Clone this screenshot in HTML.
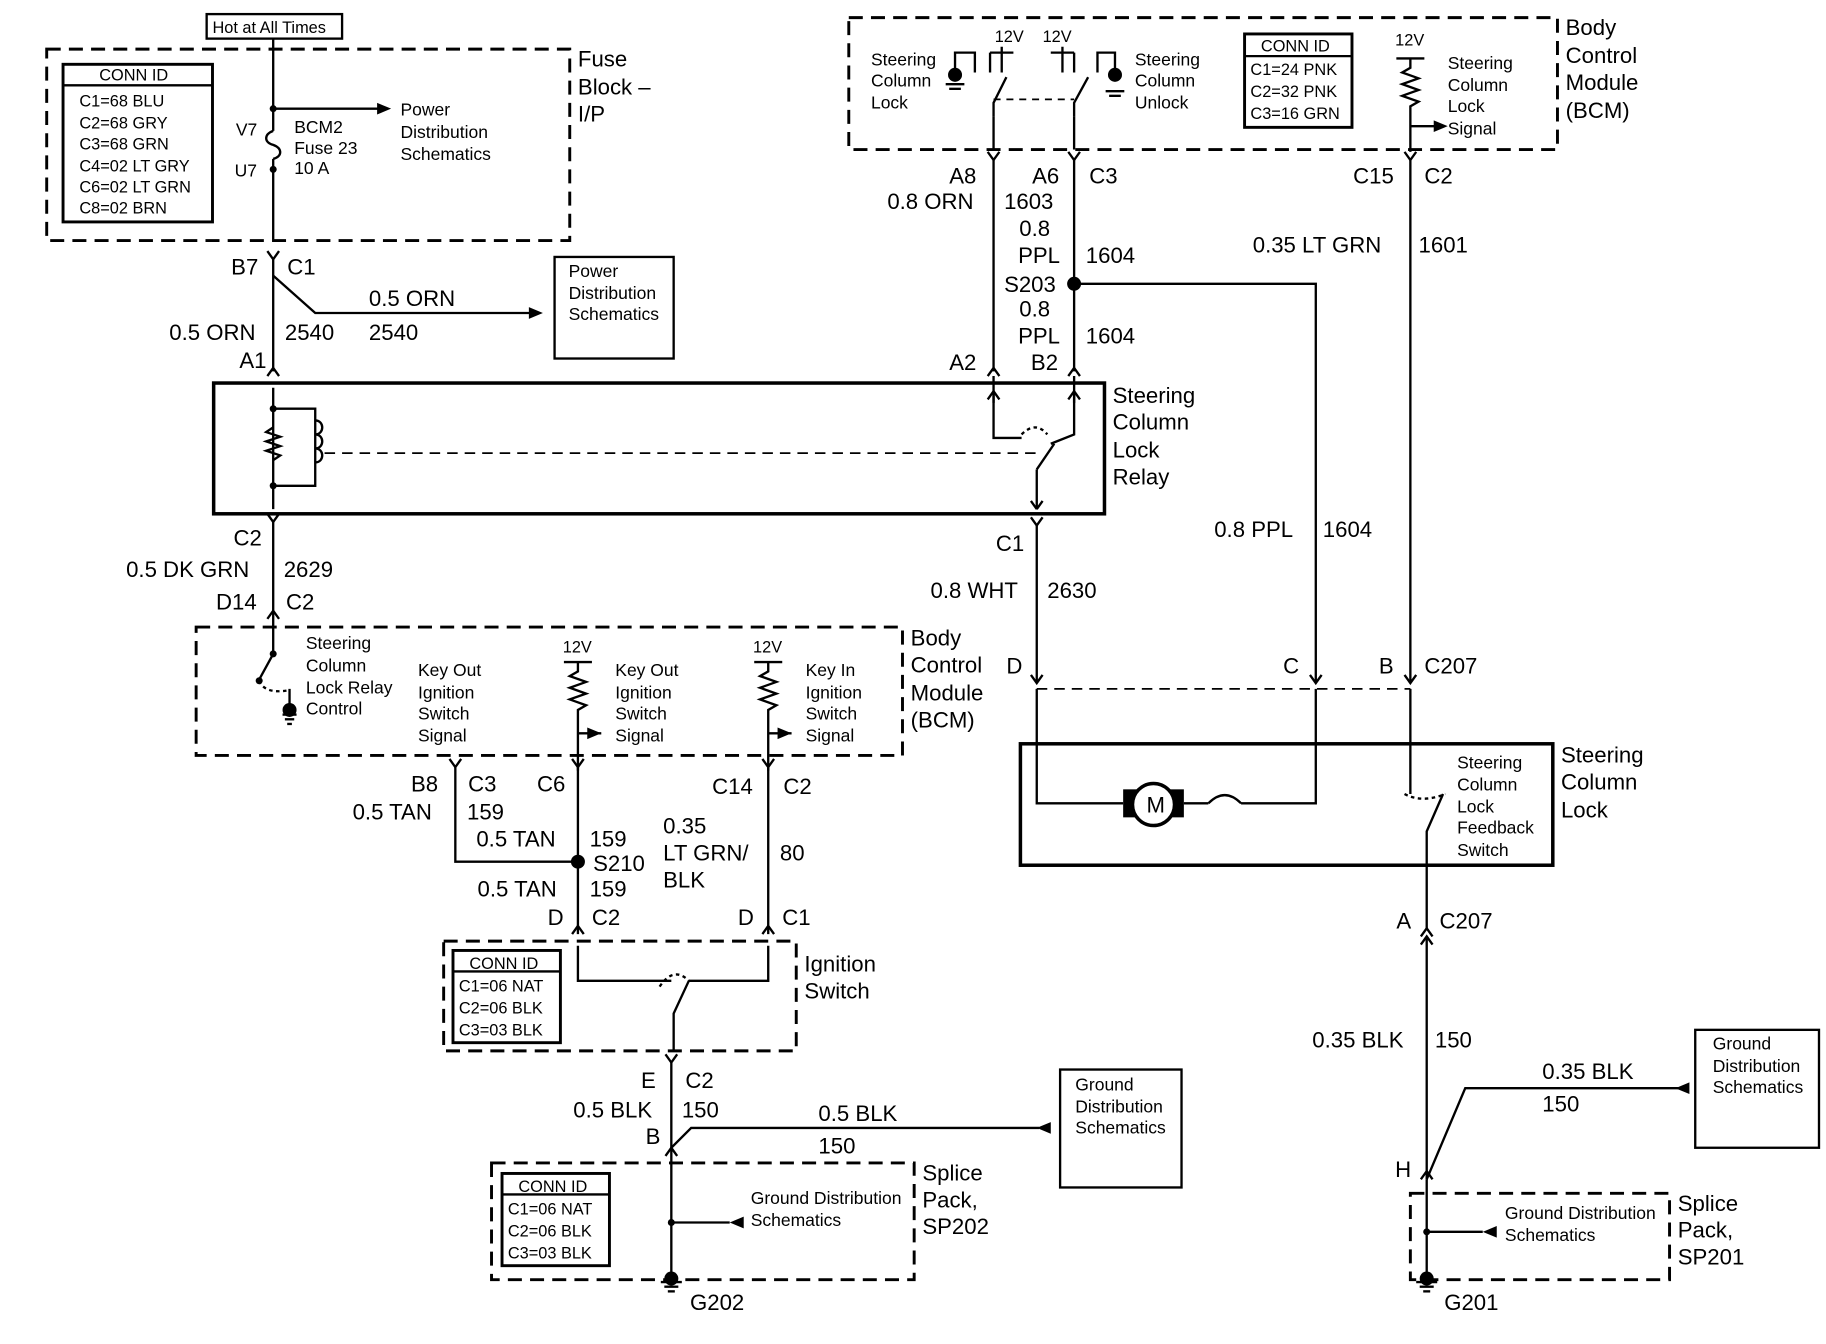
<!DOCTYPE html>
<html><head><meta charset="utf-8"><style>
html,body{margin:0;padding:0;background:#fff;}
svg{display:block}
text{font-family:"Liberation Sans",Arial,sans-serif;fill:#000}
.b{font-size:19px}
.s{font-size:14px}
.m{font-size:15px}
</style></head><body>
<svg width="1826" height="1344" viewBox="0 0 1564 1151" xmlns="http://www.w3.org/2000/svg">
<rect width="1564" height="1151" fill="#fff"/>
<g fill="none" stroke="#000" stroke-width="2">
<rect x="40" y="42" width="448" height="164" stroke-dasharray="12,7" stroke-width="2.5"/>
<rect x="177" y="12" width="116" height="21"/>
<rect x="54" y="55" width="128" height="135" stroke-width="2.5"/>
<line x1="54" y1="73" x2="182" y2="73"/>
<line x1="234" y1="33" x2="234" y2="112"/>
<path d="M234,112 c-8,3 -8,10 0,12 c8,3 8,10 0,12"/>
<line x1="234" y1="136" x2="234" y2="205"/>
<line x1="234" y1="93" x2="325" y2="93"/>
<path d="M229,215 L234,222 L239,215"/>
<line x1="234" y1="222" x2="234" y2="318"/>
<path d="M234,236 L270,268 L455,268"/>
<rect x="475" y="220" width="102" height="87"/>
<path d="M229,322 L234,315 L239,322"/>
<rect x="183" y="328" width="763" height="112" stroke-width="3"/>
<line x1="234" y1="332" x2="234" y2="436"/>
<path d="M234,350 L270,350 L270,416 L234,416"/>
<path d="M234,366 l-6,4 l12,4 l-12,4 l12,4 l-12,4 l12,4 l-6,4"/>
<path d="M270,360 c8,0 8,12 0,12 c8,0 8,12 0,12 c8,0 8,12 0,12"/>
<line x1="278" y1="388" x2="888" y2="388" stroke-dasharray="9,6" stroke-width="1.5"/>
<path d="M851,322 L851,375 L875,375"/>
<path d="M920,322 L920,372 L900,380 M888,402 L903,380"/>
<line x1="888" y1="402" x2="888" y2="436"/>
<path d="M875,372 q12,-12 22,0" stroke-dasharray="3,3"/>
<path d="M229,440 L234,447 L239,440"/>
<line x1="234" y1="447" x2="234" y2="540"/>
<path d="M229,530 L234,523 L239,530"/>
<rect x="168" y="537" width="605" height="110" stroke-dasharray="12,7" stroke-width="2.5"/>
<path d="M234,540 L234,560 L222,582 M248,590 L248,606"/>
<path d="M222,583 q5,12 26,8" stroke-dasharray="3,3"/>
<line x1="242" y1="612" x2="254" y2="612"/><line x1="244" y1="616" x2="252" y2="616"/><line x1="246" y1="620" x2="250" y2="620"/>
<line x1="483" y1="567" x2="507" y2="567"/>
<path d="M495,567 L495,575 l-7,4 l14,5 l-14,5 l14,5 l-14,5 l14,5 l-7,4 L495,660"/>
<line x1="495" y1="628" x2="515" y2="628"/>
<line x1="646" y1="567" x2="670" y2="567"/>
<path d="M658,567 L658,575 l-7,4 l14,5 l-14,5 l14,5 l-14,5 l14,5 l-7,4 L658,660"/>
<line x1="658" y1="628" x2="678" y2="628"/>
<path d="M385,650 L390,657 L395,650 M490,650 L495,657 L500,650 M653,650 L658,657 L663,650"/>
<path d="M390,657 L390,738 L495,738"/>
<line x1="495" y1="657" x2="495" y2="800"/>
<line x1="658" y1="657" x2="658" y2="800"/>
<path d="M490,800 L495,793 L500,800 M653,800 L658,793 L663,800"/>
<rect x="380" y="806" width="302" height="94" stroke-dasharray="12,7" stroke-width="2.5"/>
<rect x="388" y="814" width="92" height="79" stroke-width="2.5"/>
<line x1="388" y1="832" x2="480" y2="832"/>
<path d="M495,810 L495,840 L575,840 M658,810 L658,840 L590,840 M590,840 L577,868 L577,900"/>
<path d="M565,845 q12,-18 25,-5" stroke-dasharray="3,3"/>
<path d="M570,903 L575,910 L580,903"/>
<line x1="575" y1="910" x2="575" y2="1095"/>
<path d="M570,990 L575,983 L580,990"/>
<path d="M575,983 L592,966 L890,966"/>
<rect x="908" y="916" width="104" height="101"/>
<rect x="421" y="996" width="362" height="100" stroke-dasharray="12,7" stroke-width="2.5"/>
<rect x="430" y="1005" width="92" height="79" stroke-width="2.5"/>
<line x1="430" y1="1023" x2="522" y2="1023"/>
<line x1="575" y1="1047" x2="625" y2="1047"/>
<line x1="566" y1="1098" x2="584" y2="1098"/><line x1="569" y1="1102" x2="581" y2="1102"/><line x1="572" y1="1106" x2="578" y2="1106"/>
<rect x="727" y="15" width="607" height="113" stroke-dasharray="12,7" stroke-width="2.5"/>
<rect x="1066" y="29" width="92" height="80" stroke-width="2.5"/>
<line x1="1066" y1="48" x2="1158" y2="48"/>
<path d="M818,62 L818,45 L835,45 L835,62"/>
<line x1="810" y1="72" x2="826" y2="72"/><line x1="813" y1="76" x2="823" y2="76"/>
<path d="M848,45 L868,45 M858,40 L858,62 M848,45 L848,62"/>
<path d="M900,45 L920,45 M910,40 L910,62 M920,45 L920,62"/>
<path d="M940,62 L940,45 L955,45 L955,60"/>
<line x1="947" y1="78" x2="963" y2="78"/><line x1="950" y1="82" x2="960" y2="82"/>
<path d="M851,100 L851,88 L862,66 M920,100 L920,88 L932,66"/>
<path d="M851,85 L920,85" stroke-dasharray="6,5" stroke-width="1.5"/>
<line x1="851" y1="100" x2="851" y2="128"/><line x1="920" y1="100" x2="920" y2="128"/>
<line x1="1196" y1="50" x2="1220" y2="50"/>
<path d="M1208,50 L1208,58 l-7,4 l14,5 l-14,5 l14,5 l-14,5 l14,5 l-7,4 L1208,130 M1208,108 L1230,108"/>
<path d="M846,130 L851,137 L856,130 M915,130 L920,137 L925,130 M1203,130 L1208,137 L1213,130"/>
<line x1="851" y1="137" x2="851" y2="318"/>
<line x1="920" y1="137" x2="920" y2="318"/>
<path d="M846,322 L851,315 L856,322 M915,322 L920,315 L925,322"/>
<path d="M851,335 L846,342 M851,335 L856,342 M920,335 L915,342 M920,335 L925,342 M888,436 L883,429 M888,436 L893,429"/>
<line x1="851" y1="335" x2="851" y2="345"/><line x1="920" y1="335" x2="920" y2="345"/>
<path d="M920,243 L1127,243 L1127,585"/>
<line x1="1208" y1="137" x2="1208" y2="585"/>
<path d="M883,443 L888,450 L893,443"/>
<line x1="888" y1="450" x2="888" y2="585"/>
<path d="M883,578 L888,585 L893,578 M1122,578 L1127,585 L1132,578 M1203,578 L1208,585 L1213,578"/>
<line x1="888" y1="590" x2="1208" y2="590" stroke-dasharray="9,6" stroke-width="1.5"/>
<rect x="874" y="637" width="456" height="104" stroke-width="3"/>
<path d="M888,590 L888,688 L962,688 M1014,688 L1035,688 M1035,688 q14,-14 28,0 M1063,688 L1127,688 L1127,590"/>
<rect x="962" y="676" width="52" height="24" fill="#000" stroke="none"/>
<circle cx="988" cy="689" r="18" fill="#fff" stroke-width="3"/>
<path d="M1208,590 L1208,680 M1222,741 L1222,712 L1236,680"/>
<path d="M1203,680 q15,8 35,0" stroke-dasharray="3,3"/>
<line x1="1222" y1="741" x2="1222" y2="795"/>
<path d="M1217,802 L1222,795 L1227,802 M1217,809 L1222,802 L1227,809"/>
<line x1="1222" y1="802" x2="1222" y2="1010"/>
<path d="M1222,1010 L1255,932 L1440,932"/>
<path d="M1217,1010 L1222,1003 L1227,1010"/>
<rect x="1452" y="882" width="106" height="101"/>
<rect x="1208" y="1022" width="222" height="74" stroke-dasharray="12,7" stroke-width="2.5"/>
<line x1="1222" y1="1010" x2="1222" y2="1095"/>
<line x1="1222" y1="1055" x2="1270" y2="1055"/>
<line x1="1213" y1="1098" x2="1231" y2="1098"/><line x1="1216" y1="1102" x2="1228" y2="1102"/><line x1="1219" y1="1106" x2="1225" y2="1106"/>
</g>
<g fill="#000">
<path d="M335,93 l-12,-5 v10z"/><path d="M465,268 l-12,-5 v10z"/>
<path d="M515,628 l-12,-5 v10z"/><path d="M678,628 l-12,-5 v10z"/>
<path d="M1240,108 l-12,-5 v10z"/>
<path d="M888,966 l12,-5 v10z"/><path d="M625,1047 l12,-5 v10z"/>
<path d="M1270,1055 l12,-5 v10z"/><path d="M1435,932 l12,-5 v10z"/>
<circle cx="234" cy="93" r="3"/><circle cx="234" cy="145" r="3"/>
<circle cx="234" cy="350" r="3"/><circle cx="234" cy="416" r="3"/>
<circle cx="920" cy="243" r="6"/><circle cx="495" cy="738" r="6"/>
<circle cx="818" cy="64" r="6"/><circle cx="955" cy="64" r="6"/>
<circle cx="248" cy="608" r="6"/><circle cx="575" cy="1095" r="6"/><circle cx="1222" cy="1095" r="6"/>
<circle cx="575" cy="1047" r="3"/><circle cx="1222" cy="1055" r="3"/>
<circle cx="234" cy="560" r="3"/><circle cx="222" cy="583" r="3"/>
</g>
<text x="982" y="696" class="b">M</text>
<text x="182" y="28" class="s">Hot at All Times</text>
<text x="85" y="69" class="s">CONN ID</text>
<text x="68" y="91" class="s">C1=68 BLU</text><text x="68" y="110" class="s">C2=68 GRY</text><text x="68" y="128" class="s">C3=68 GRN</text><text x="68" y="147" class="s">C4=02 LT GRY</text><text x="68" y="165" class="s">C6=02 LT GRN</text><text x="68" y="183" class="s">C8=02 BRN</text>
<text x="202" y="116" class="m">V7</text><text x="201" y="151" class="m">U7</text>
<text x="252" y="114" class="m">BCM2</text><text x="252" y="132" class="m">Fuse 23</text><text x="252" y="149" class="m">10 A</text>
<text x="343" y="99" class="m">Power</text><text x="343" y="118" class="m">Distribution</text><text x="343" y="137" class="m">Schematics</text>
<text x="495" y="57" class="b">Fuse</text><text x="495" y="81" class="b">Block –</text><text x="495" y="104" class="b">I/P</text>
<text x="198" y="235" class="b">B7</text><text x="246" y="235" class="b">C1</text>
<text x="316" y="262" class="b">0.5 ORN</text>
<text x="145" y="291" class="b">0.5 ORN</text><text x="244" y="291" class="b">2540</text><text x="316" y="291" class="b">2540</text>
<text x="205" y="315" class="b">A1</text>
<text x="487" y="237" class="m">Power</text><text x="487" y="256" class="m">Distribution</text><text x="487" y="274" class="m">Schematics</text>
<text x="953" y="345" class="b">Steering</text><text x="953" y="368" class="b">Column</text><text x="953" y="392" class="b">Lock</text><text x="953" y="415" class="b">Relay</text>
<text x="200" y="467" class="b">C2</text>
<text x="108" y="494" class="b">0.5 DK GRN</text><text x="243" y="494" class="b">2629</text>
<text x="185" y="522" class="b">D14</text><text x="245" y="522" class="b">C2</text>
<text x="262" y="556" class="m">Steering</text><text x="262" y="575" class="m">Column</text><text x="262" y="594" class="m">Lock Relay</text><text x="262" y="612" class="m">Control</text>
<text x="358" y="579" class="m">Key Out</text><text x="358" y="598" class="m">Ignition</text><text x="358" y="616" class="m">Switch</text><text x="358" y="635" class="m">Signal</text>
<text x="482" y="559" class="s">12V</text><text x="645" y="559" class="s">12V</text>
<text x="527" y="579" class="m">Key Out</text><text x="527" y="598" class="m">Ignition</text><text x="527" y="616" class="m">Switch</text><text x="527" y="635" class="m">Signal</text>
<text x="690" y="579" class="m">Key In</text><text x="690" y="598" class="m">Ignition</text><text x="690" y="616" class="m">Switch</text><text x="690" y="635" class="m">Signal</text>
<text x="780" y="553" class="b">Body</text><text x="780" y="576" class="b">Control</text><text x="780" y="600" class="b">Module</text><text x="780" y="623" class="b">(BCM)</text>
<text x="352" y="678" class="b">B8</text><text x="401" y="678" class="b">C3</text><text x="460" y="678" class="b">C6</text><text x="610" y="680" class="b">C14</text><text x="671" y="680" class="b">C2</text>
<text x="302" y="702" class="b">0.5 TAN</text><text x="400" y="702" class="b">159</text>
<text x="568" y="714" class="b">0.35</text><text x="568" y="737" class="b">LT GRN/</text><text x="568" y="760" class="b">BLK</text><text x="668" y="737" class="b">80</text>
<text x="408" y="725" class="b">0.5 TAN</text><text x="505" y="725" class="b">159</text><text x="508" y="746" class="b">S210</text>
<text x="409" y="768" class="b">0.5 TAN</text><text x="505" y="768" class="b">159</text>
<text x="469" y="792" class="b">D</text><text x="507" y="792" class="b">C2</text><text x="632" y="792" class="b">D</text><text x="670" y="792" class="b">C1</text>
<text x="402" y="830" class="s">CONN ID</text><text x="393" y="849" class="s">C1=06 NAT</text><text x="393" y="868" class="s">C2=06 BLK</text><text x="393" y="887" class="s">C3=03 BLK</text>
<text x="689" y="832" class="b">Ignition</text><text x="689" y="855" class="b">Switch</text>
<text x="549" y="932" class="b">E</text><text x="587" y="932" class="b">C2</text>
<text x="491" y="957" class="b">0.5 BLK</text><text x="584" y="957" class="b">150</text><text x="701" y="960" class="b">0.5 BLK</text>
<text x="553" y="980" class="b">B</text><text x="701" y="988" class="b">150</text>
<text x="921" y="934" class="m">Ground</text><text x="921" y="953" class="m">Distribution</text><text x="921" y="971" class="m">Schematics</text>
<text x="444" y="1021" class="s">CONN ID</text><text x="435" y="1040" class="s">C1=06 NAT</text><text x="435" y="1059" class="s">C2=06 BLK</text><text x="435" y="1078" class="s">C3=03 BLK</text>
<text x="643" y="1031" class="m">Ground Distribution</text><text x="643" y="1050" class="m">Schematics</text>
<text x="790" y="1011" class="b">Splice</text><text x="790" y="1034" class="b">Pack,</text><text x="790" y="1057" class="b">SP202</text>
<text x="591" y="1122" class="b">G202</text>
<text x="746" y="56" class="m">Steering</text><text x="746" y="74" class="m">Column</text><text x="746" y="93" class="m">Lock</text>
<text x="852" y="36" class="s">12V</text><text x="893" y="36" class="s">12V</text>
<text x="972" y="56" class="m">Steering</text><text x="972" y="74" class="m">Column</text><text x="972" y="93" class="m">Unlock</text>
<text x="1080" y="44" class="s">CONN ID</text><text x="1071" y="64" class="s">C1=24 PNK</text><text x="1071" y="83" class="s">C2=32 PNK</text><text x="1071" y="102" class="s">C3=16 GRN</text>
<text x="1195" y="39" class="s">12V</text>
<text x="1240" y="59" class="m">Steering</text><text x="1240" y="78" class="m">Column</text><text x="1240" y="96" class="m">Lock</text><text x="1240" y="115" class="m">Signal</text>
<text x="1341" y="30" class="b">Body</text><text x="1341" y="54" class="b">Control</text><text x="1341" y="77" class="b">Module</text><text x="1341" y="101" class="b">(BCM)</text>
<text x="813" y="157" class="b">A8</text><text x="884" y="157" class="b">A6</text><text x="933" y="157" class="b">C3</text>
<text x="1159" y="157" class="b">C15</text><text x="1220" y="157" class="b">C2</text>
<text x="760" y="179" class="b">0.8 ORN</text><text x="860" y="179" class="b">1603</text>
<text x="873" y="202" class="b">0.8</text><text x="872" y="225" class="b">PPL</text><text x="930" y="225" class="b">1604</text>
<text x="1073" y="216" class="b">0.35 LT GRN</text><text x="1215" y="216" class="b">1601</text>
<text x="860" y="250" class="b">S203</text>
<text x="873" y="271" class="b">0.8</text><text x="872" y="294" class="b">PPL</text><text x="930" y="294" class="b">1604</text>
<text x="813" y="317" class="b">A2</text><text x="883" y="317" class="b">B2</text>
<text x="1040" y="460" class="b">0.8 PPL</text><text x="1133" y="460" class="b">1604</text>
<text x="853" y="472" class="b">C1</text>
<text x="797" y="512" class="b">0.8 WHT</text><text x="897" y="512" class="b">2630</text>
<text x="862" y="577" class="b">D</text><text x="1099" y="577" class="b">C</text><text x="1181" y="577" class="b">B</text><text x="1220" y="577" class="b">C207</text>
<text x="1248" y="658" class="m">Steering</text><text x="1248" y="677" class="m">Column</text><text x="1248" y="696" class="m">Lock</text><text x="1248" y="714" class="m">Feedback</text><text x="1248" y="733" class="m">Switch</text>
<text x="1337" y="653" class="b">Steering</text><text x="1337" y="676" class="b">Column</text><text x="1337" y="700" class="b">Lock</text>
<text x="1196" y="795" class="b">A</text><text x="1233" y="795" class="b">C207</text>
<text x="1124" y="897" class="b">0.35 BLK</text><text x="1229" y="897" class="b">150</text>
<text x="1321" y="924" class="b">0.35 BLK</text><text x="1321" y="952" class="b">150</text>
<text x="1195" y="1008" class="b">H</text>
<text x="1467" y="899" class="m">Ground</text><text x="1467" y="918" class="m">Distribution</text><text x="1467" y="936" class="m">Schematics</text>
<text x="1289" y="1044" class="m">Ground Distribution</text><text x="1289" y="1063" class="m">Schematics</text>
<text x="1437" y="1037" class="b">Splice</text><text x="1437" y="1060" class="b">Pack,</text><text x="1437" y="1083" class="b">SP201</text>
<text x="1237" y="1122" class="b">G201</text>
</svg>
</body></html>
